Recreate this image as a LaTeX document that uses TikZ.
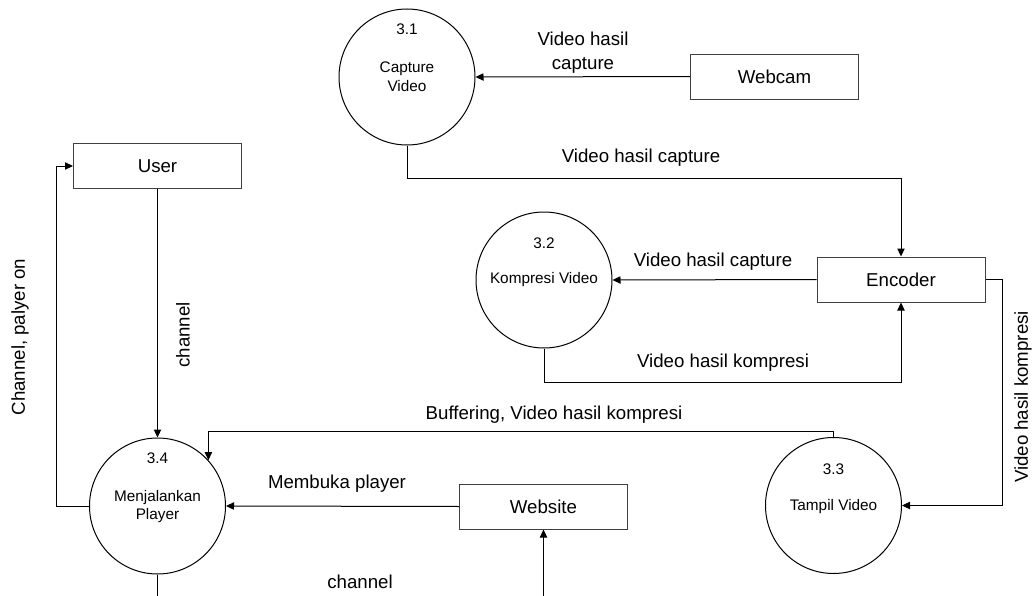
\documentclass[tikz,border=0pt]{standalone}
\usepackage{fontspec}
\setmainfont{Liberation Sans}
\usetikzlibrary{arrows.meta}

\begin{document}
\begin{tikzpicture}[x=0.75pt,y=0.75pt,yscale=-1,xscale=1,
    proc/.style={draw=black,line width=0.75pt,circle,minimum size=102pt,inner sep=0pt},
    ent/.style={draw={rgb, 255:red, 64; green, 64; blue, 64},line width=0.75pt,rectangle,minimum width=126pt,minimum height=33.75pt,inner sep=0pt,font=\fontsize{14}{18}\selectfont},
    flow/.style={draw=black,line width=0.75pt,-{Triangle[length=6pt,width=5.5pt]}},
    wire/.style={draw=black,line width=0.75pt},
    lbl/.style={inner sep=0pt,font=\fontsize{14}{18}\selectfont,align=center},
    num/.style={inner sep=0pt,font=\fontsize{11.5}{14}\selectfont,align=center}]
        \useasboundingbox (0,0) rectangle (1033,596);
        % Circle
        \draw (407,77) node (p31) [proc] {};
        % Circle
        \draw (544,280) node (p32) [proc] {};
        % Circle
        \draw (833.5,505.5) node (p33) [proc] {};
        % Circle
        \draw (157.5,506) node (p34) [proc] {};
        % Box
        \draw (774.5,76.5) node (webcam) [ent] {Webcam};
        % Box
        \draw (157.5,166) node (user) [ent] {User};
        % Box
        \draw (901,279.5) node (encoder) [ent] {Encoder};
        % Box
        \draw (543.5,506.5) node (website) [ent] {Website};
        % Text Node
        \draw (407,29) node (n31) [num] {3.1};
        % Text Node
        \draw (407,76.5) node (t31) [num] {Capture\\Video};
        % Text Node
        \draw (544,243) node (n32) [num] {3.2};
        % Text Node
        \draw (544,280) node (t32) [num] {Kompresi Video};
        % Text Node
        \draw (833.5,469) node (n33) [num] {3.3};
        % Text Node
        \draw (833.5,507) node (t33) [num] {Tampil Video};
        % Text Node
        \draw (157.5,458) node (n34) [num] {3.4};
        % Text Node
        \draw (157.5,506.5) node (t34) [num] {Menjalankan\\Player};
        % Text Node
        \draw (583,53) node (l1) [lbl] {Video hasil\\capture};
        % Text Node
        \draw (641,158) node (l2) [lbl] {Video hasil capture};
        % Text Node
        \draw (713,262) node (l3) [lbl] {Video hasil capture};
        % Text Node
        \draw (723,363) node (l4) [lbl] {Video hasil kompresi};
        % Text Node
        \draw (1023,397) node (l5) [lbl,rotate=90] {Video hasil kompresi};
        % Text Node
        \draw (554,415) node (l6) [lbl] {Buffering, Video hasil kompresi};
        % Text Node
        \draw (337,484) node (l7) [lbl] {Membuka player};
        % Text Node
        \draw (183,335) node (l8) [lbl,rotate=90] {channel};
        % Text Node
        \draw (20,337) node (l9) [lbl,rotate=90] {Channel, palyer on};
        % Text Node
        \draw (360,582) node (l10) [lbl] {channel};
        % Free ends
        \coordinate (bot34) at (157.5,596);
        \coordinate (botweb) at (543.5,596);
        % Connection
        \draw [flow] (webcam.west) -- (p31.east);
        % Connection
        \draw [flow] (p31.south) -- ++(0,33) -| (encoder.north);
        % Connection
        \draw [flow] (encoder.west) -- (p32.east);
        % Connection
        \draw [flow] (p32.south) -- ++(0,34) -| (encoder.south);
        % Connection
        \draw [flow] (encoder.east) -- ++(17,0) |- (p33.east);
        % Connection
        \draw [flow] (p33.north) -- ++(0,-6) -| (p34.42);
        % Connection
        \draw [flow] (website.west) -- (p34.east);
        % Connection
        \draw [flow] (user.south) -- (p34.north);
        % Connection
        \draw [flow] (p34.west) -- ++(-32.5,0) |- (user.west);
        % Connection
        \draw [wire] (p34.south) -- (bot34);
        % Connection
        \draw [flow] (botweb) -- (website.south);
    \end{tikzpicture}
\end{document}
